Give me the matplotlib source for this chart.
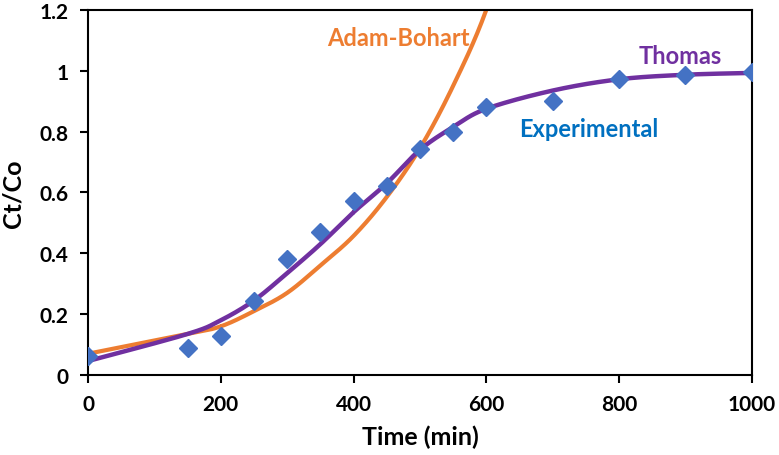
import numpy as np
import matplotlib
matplotlib.use("Agg")
import matplotlib.pyplot as plt

# ---- data ----
time_min = [0, 150, 200, 250, 300, 350, 400, 450, 500, 550, 600, 700, 800, 900, 1000]
experimental = [0.063, 0.089, 0.127, 0.243, 0.38, 0.47, 0.573, 0.62, 0.743, 0.80, 0.88, 0.90, 0.973, 0.987, 0.997]
thomas = [0.046, 0.135, 0.18, 0.245, 0.335, 0.43, 0.535, 0.63, 0.74, 0.815, 0.875, 0.935, 0.972, 0.987, 0.993]
adam_time = [0, 150, 200, 250, 300, 350, 400, 450, 500, 550, 600, 650, 700]
adam_bohart = [0.07, 0.135, 0.16, 0.21, 0.27, 0.36, 0.457, 0.585, 0.745, 0.95, 1.2, 1.55, 1.95]

x_ticks = [0, 200, 400, 600, 800, 1000]
y_ticks = [0, 0.2, 0.4, 0.6, 0.8, 1.0, 1.2]
y_tick_labels = ["0", "0.2", "0.4", "0.6", "0.8", "1", "1.2"]


def smooth(xs, ys, n=30):
    # Excel-style smoothed line (Catmull-Rom through the points)
    p = np.column_stack([xs, ys]).astype(float)
    p = np.vstack([p[0], p, p[-1]])
    out = []
    t = np.linspace(0, 1, n)[:, None]
    for i in range(1, len(p) - 2):
        p0, p1, p2, p3 = p[i - 1], p[i], p[i + 1], p[i + 2]
        seg = 0.5 * ((2 * p1) + (-p0 + p2) * t + (2 * p0 - 5 * p1 + 4 * p2 - p3) * t ** 2
                     + (-p0 + 3 * p1 - 3 * p2 + p3) * t ** 3)
        out.append(seg)
    out = np.vstack(out)
    return out[:, 0], out[:, 1]


plt.rcParams["font.family"] = ["Lato", "DejaVu Sans"]
plt.rcParams["font.weight"] = "bold"

fig = plt.figure(figsize=(7.79, 4.56), dpi=100)
ax = fig.add_axes([0.113, 0.1754, 0.852, 0.8006])

c_blue = "#4472C4"
c_orange = "#ED7D31"
c_purple = "#7030A0"

ab_x, ab_y = smooth(adam_time, adam_bohart)
ax.plot(ab_x, ab_y, color=c_orange, lw=3, solid_capstyle="butt", zorder=2)
th_x, th_y = smooth(time_min, thomas)
ax.plot(th_x, th_y, color=c_purple, lw=3.2, solid_capstyle="butt", zorder=3)
ax.plot(time_min, experimental, linestyle="none", marker="D", markersize=9,
        color=c_blue, zorder=4)

ax.text(468, 1.111, "Adam-Bohart", color=c_orange, fontsize=17, fontweight="bold", ha="center", va="center")
ax.text(892, 1.049, "Thomas", color=c_purple, fontsize=17, fontweight="bold", ha="center", va="center")
ax.text(755, 0.809, "Experimental", color="#0070C0", fontsize=17, fontweight="bold", ha="center", va="center")

ax.set_xlim(0, 1000)
ax.set_ylim(0, 1.2)
ax.set_xticks(x_ticks)
ax.set_yticks(y_ticks)
ax.set_yticklabels(y_tick_labels)
ax.tick_params(direction="out", length=6, width=1.5, labelsize=15, pad=8)
for lab in ax.get_xticklabels() + ax.get_yticklabels():
    lab.set_fontweight("bold")
for s in ax.spines.values():
    s.set_linewidth(1.5)
    s.set_color("black")

ax.set_xlabel("Time (min)", fontsize=18, fontweight="bold", labelpad=7)
ax.set_ylabel("Ct/Co", fontsize=18, fontweight="bold", labelpad=11)

fig.savefig("out.png", dpi=100)
